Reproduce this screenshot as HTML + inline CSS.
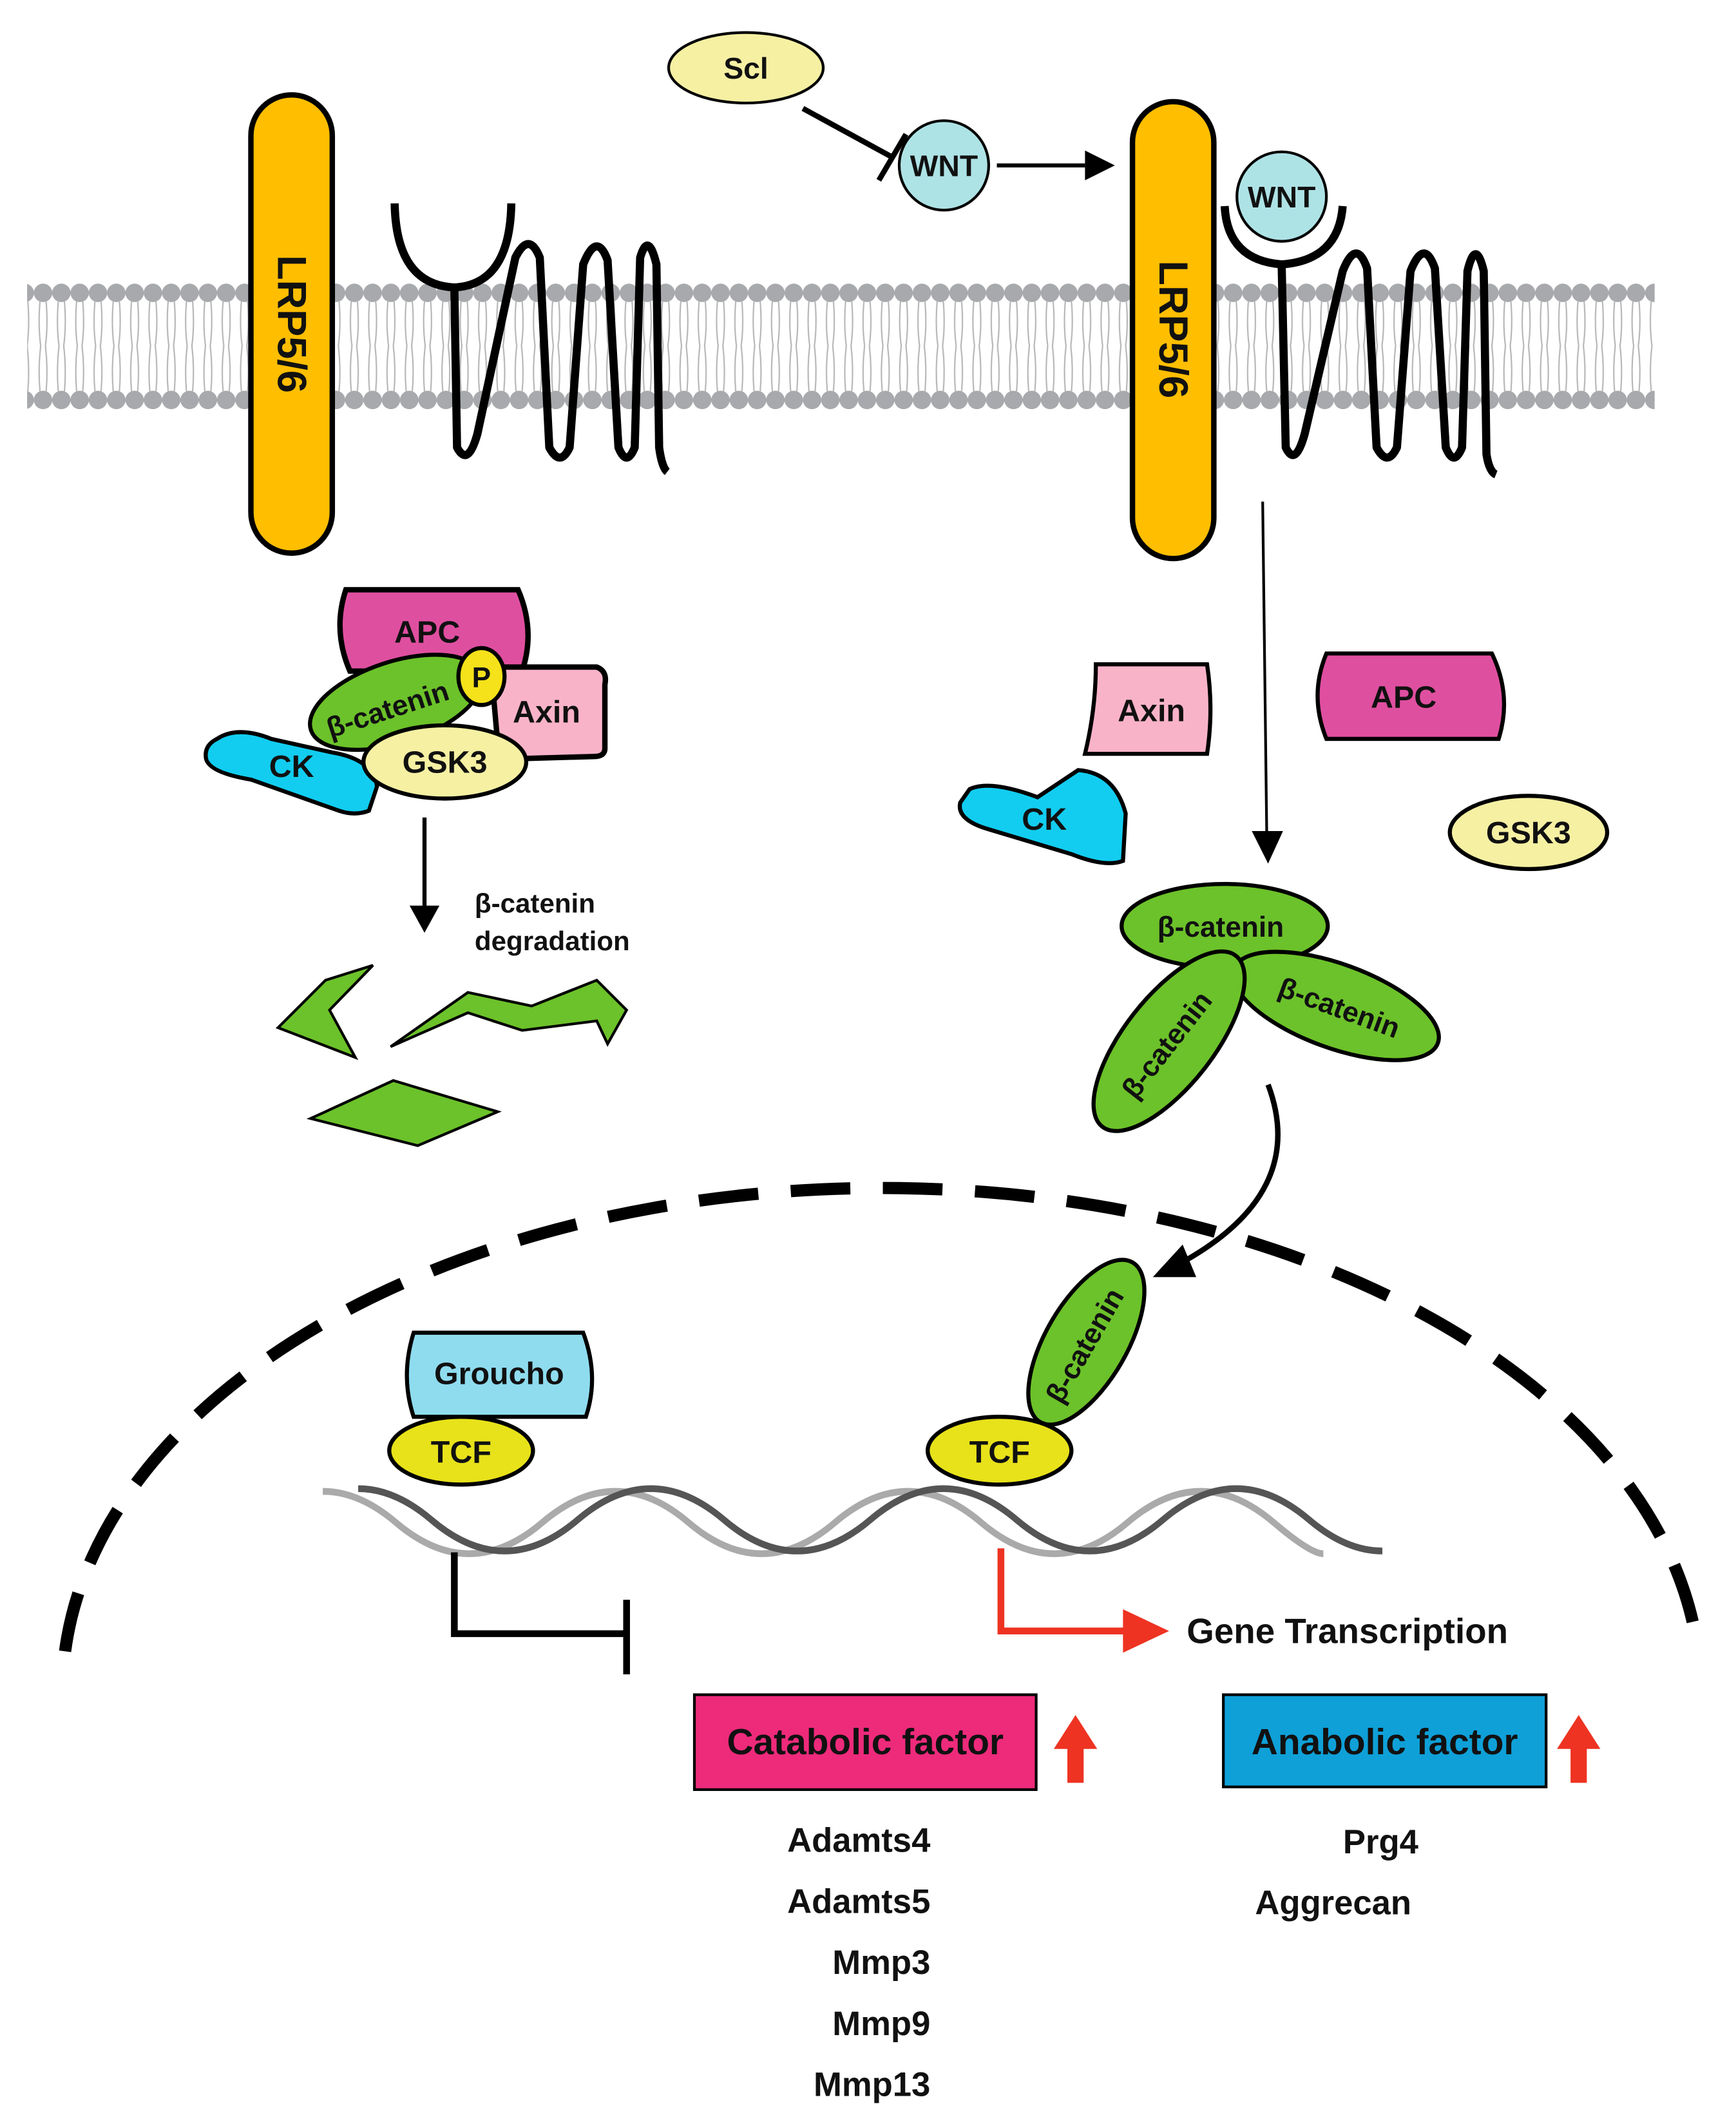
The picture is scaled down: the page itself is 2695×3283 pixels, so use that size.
<!DOCTYPE html>
<html><head><meta charset="utf-8"><style>
html,body{margin:0;padding:0;background:#fff;}
svg{display:block;}
text{font-family:"Liberation Sans",Arial,sans-serif;font-weight:bold;fill:#111;}
</style></head><body>
<svg width="2695" height="3283" viewBox="0 0 1280 1560" preserveAspectRatio="none" xmlns="http://www.w3.org/2000/svg">
<defs>
<pattern id="lip" x="25" y="0" width="13.5" height="1560" patternUnits="userSpaceOnUse">
<circle cx="6.75" cy="216" r="6.8" fill="#a7a9ac"/>
<circle cx="6.75" cy="295" r="6.8" fill="#a7a9ac"/>
<path d="M4.5 222 Q3 240 5 255 Q3 272 4.5 289 M9 222 Q10.5 240 8.5 255 Q10.5 272 9 289" stroke="#b5b5b5" stroke-width="1" fill="none"/>
</pattern>
</defs>
<rect x="20" y="205" width="1200" height="100" fill="url(#lip)"/>

<ellipse cx="550" cy="50" rx="57" ry="26" fill="#f6f0a3" stroke="#000" stroke-width="2"/>
<text x="550" y="58" font-size="22" text-anchor="middle">Scl</text>
<line x1="592" y1="80" x2="658" y2="116" stroke="#000" stroke-width="4"/>
<line x1="648" y1="133" x2="668" y2="99" stroke="#000" stroke-width="4"/>
<circle cx="696" cy="122" r="33" fill="#aee3e6" stroke="#000" stroke-width="2"/>
<text x="696" y="130" font-size="22" text-anchor="middle">WNT</text>
<line x1="735" y1="122" x2="800" y2="122" stroke="#000" stroke-width="3"/>
<path d="M800 111 L822 122 L800 133z" fill="#000"/>

<rect x="185" y="70" width="60" height="338" rx="30" fill="#ffbe00" stroke="#000" stroke-width="4"/>
<text transform="translate(205,239) rotate(90)" font-size="30" text-anchor="middle">LRP5/6</text>
<path d="M291 150 Q292 210 335 212 Q376 210 377 150" stroke="#000" stroke-width="6" fill="none"/>
<path d="M335 212 L337 330 Q345 345 352 320 L380 190 Q390 170 398 190 L405 330 Q413 345 420 330 L430 195 Q440 170 448 192 L456 330 Q462 345 468 330 L472 190 Q478 170 484 195 L486 330 Q488 345 492 348" stroke="#000" stroke-width="6" fill="none" stroke-linejoin="round"/>

<rect x="835" y="75" width="60" height="337" rx="30" fill="#ffbe00" stroke="#000" stroke-width="4"/>
<text transform="translate(855,243) rotate(90)" font-size="30" text-anchor="middle">LRP5/6</text>
<circle cx="945" cy="145" r="33" fill="#aee3e6" stroke="#000" stroke-width="2"/>
<text x="945" y="153" font-size="22" text-anchor="middle">WNT</text>
<path d="M903 152 Q905 192 945 195 Q987 192 990 152" stroke="#000" stroke-width="6" fill="none"/>
<path d="M945 195 L948 330 Q955 345 962 320 L990 200 Q1000 175 1008 198 L1015 330 Q1023 345 1030 330 L1040 200 Q1050 175 1058 198 L1066 330 Q1072 345 1078 330 L1082 200 Q1088 175 1094 200 L1096 335 Q1098 348 1103 350" stroke="#000" stroke-width="6" fill="none" stroke-linejoin="round"/>

<path d="M255 435 L382 435 Q395 465 385 495 L258 495 Q245 465 255 435z" fill="#df4fa0" stroke="#000" stroke-width="4"/>
<text x="315" y="474" font-size="23" text-anchor="middle">APC</text>
<path d="M362 492 L440 492 Q448 495 446 505 L446 552 Q446 558 438 558 L368 560z" fill="#f9b3c9" stroke="#000" stroke-width="4"/>
<text x="403" y="533" font-size="23" text-anchor="middle">Axin</text>
<path d="M160 545 Q175 535 200 545 L245 555 Q275 560 278 580 L272 598 Q262 602 250 598 L185 575 Q155 570 152 560 Q150 550 160 545z" fill="#12cdf0" stroke="#000" stroke-width="3"/>
<text x="215" y="573" font-size="23" text-anchor="middle">CK</text>
<ellipse cx="292" cy="518" rx="66" ry="30" transform="rotate(-18 292 518)" fill="#6cc22a" stroke="#000" stroke-width="3"/>
<text transform="translate(288,530) rotate(-18)" font-size="21" text-anchor="middle" font-weight="normal">β-catenin</text>
<ellipse cx="355" cy="499" rx="17" ry="21" fill="#f5e21a" stroke="#000" stroke-width="3"/>
<text x="355" y="507" font-size="21" text-anchor="middle">P</text>
<ellipse cx="328" cy="562" rx="60" ry="27" fill="#f6f0a3" stroke="#000" stroke-width="3"/>
<text x="328" y="570" font-size="23" text-anchor="middle">GSK3</text>
<line x1="313" y1="603" x2="313" y2="670" stroke="#000" stroke-width="3"/>
<path d="M302 668 L313 688 L324 668z" fill="#000"/>
<text x="350" y="673" font-size="20">β-catenin</text>
<text x="350" y="701" font-size="20">degradation</text>
<path d="M205 758 L240 723 L275 712 L243 745 L262 780z" fill="#6cc22a" stroke="#000" stroke-width="2"/>
<path d="M288 772 L345 732 L392 742 L440 723 L462 745 L448 770 L440 753 L385 760 L345 747z" fill="#6cc22a" stroke="#000" stroke-width="2"/>
<path d="M229 825 L290 797 L367 820 L308 845z" fill="#6cc22a" stroke="#000" stroke-width="2"/>

<path d="M808 490 L890 490 Q895 523 890 556 L800 556 Q808 523 808 490z" fill="#f9b3c9" stroke="#000" stroke-width="3"/>
<text x="849" y="532" font-size="23" text-anchor="middle">Axin</text>
<path d="M978 482 L1100 482 Q1115 513 1105 545 L978 545 Q965 513 978 482z" fill="#df4fa0" stroke="#000" stroke-width="3"/>
<text x="1035" y="522" font-size="23" text-anchor="middle">APC</text>
<path d="M715 582 Q730 575 765 588 L795 568 Q822 570 830 600 L828 635 Q815 640 790 630 L730 612 Q705 605 708 592z" fill="#12cdf0" stroke="#000" stroke-width="3"/>
<text x="770" y="612" font-size="23" text-anchor="middle">CK</text>
<ellipse cx="1127" cy="614" rx="58" ry="27" fill="#f6f0a3" stroke="#000" stroke-width="3"/>
<text x="1127" y="622" font-size="23" text-anchor="middle">GSK3</text>
<line x1="931" y1="370" x2="934" y2="615" stroke="#000" stroke-width="2"/>
<path d="M923 613 L935 637 L946 613z" fill="#000"/>
<ellipse cx="903" cy="683" rx="76" ry="31" fill="#6cc22a" stroke="#000" stroke-width="3"/>
<text x="900" y="691" font-size="21" text-anchor="middle" font-weight="normal">β-catenin</text>
<ellipse cx="985" cy="742" rx="80" ry="31" transform="rotate(20 985 742)" fill="#6cc22a" stroke="#000" stroke-width="3"/>
<text transform="translate(985,750) rotate(20)" font-size="21" text-anchor="middle" font-weight="normal">β-catenin</text>
<ellipse cx="862" cy="768" rx="80" ry="33" transform="rotate(-52 862 768)" fill="#6cc22a" stroke="#000" stroke-width="3"/>
<text transform="translate(866,775) rotate(-52)" font-size="21" text-anchor="middle" font-weight="normal">β-catenin</text>
<path d="M935 800 Q965 880 870 932" stroke="#000" stroke-width="4" fill="none"/>
<path d="M872 918 L850 942 L882 942z" fill="#000"/>

<path d="M48 1218 A604 372 0 0 1 1252 1218" stroke="#000" stroke-width="9" fill="none" stroke-dasharray="44 24"/>

<g transform="translate(238,0) scale(0.87,1) translate(-238,0)">
<path d="M238 1100 q31 0 62 23 q31 23 62 23 q31 0 62 -23 q31 -23 62 -23 q31 0 62 23 q31 23 62 23 q31 0 62 -23 q31 -23 62 -23 q31 0 62 23 q31 23 62 23 q31 0 62 -23 q31 -23 62 -23 q31 0 62 23 q31 23 42 23" stroke="#aaa" stroke-width="5" fill="none"/>
<path d="M268 1098 q31 0 62 23 q31 23 62 23 q31 0 62 -23 q31 -23 62 -23 q31 0 62 23 q31 23 62 23 q31 0 62 -23 q31 -23 62 -23 q31 0 62 23 q31 23 62 23 q31 0 62 -23 q31 -23 62 -23 q31 0 62 23 q31 23 62 23" stroke="#555" stroke-width="5" fill="none"/>
</g>

<path d="M305 983 L430 983 Q442 1015 432 1045 L305 1045 Q295 1015 305 983z" fill="#8fdcef" stroke="#000" stroke-width="3"/>
<text x="368" y="1021" font-size="23" text-anchor="middle">Groucho</text>
<ellipse cx="340" cy="1070" rx="53" ry="25" fill="#e8e21a" stroke="#000" stroke-width="3"/>
<text x="340" y="1079" font-size="23" text-anchor="middle">TCF</text>
<ellipse cx="801" cy="990" rx="68" ry="30" transform="rotate(-60 801 990)" fill="#6cc22a" stroke="#000" stroke-width="3"/>
<text transform="translate(806,996) rotate(-60)" font-size="21" text-anchor="middle" font-weight="normal">β-catenin</text>
<ellipse cx="737" cy="1070" rx="53" ry="25" fill="#e8e21a" stroke="#000" stroke-width="3"/>
<text x="737" y="1079" font-size="23" text-anchor="middle">TCF</text>

<path d="M335 1145 L335 1205 L462 1205" stroke="#000" stroke-width="5" fill="none"/>
<line x1="462" y1="1180" x2="462" y2="1235" stroke="#000" stroke-width="5"/>
<path d="M738 1142 L738 1203 L830 1203" stroke="#ee3322" stroke-width="5" fill="none"/>
<path d="M828 1187 L862 1203 L828 1219z" fill="#ee3322"/>
<text x="875" y="1212" font-size="26">Gene Transcription</text>

<rect x="512" y="1250" width="252" height="70" fill="#ee2a7b" stroke="#000" stroke-width="2"/>
<text x="638" y="1294" font-size="27" text-anchor="middle">Catabolic factor</text>
<path d="M787 1315 L787 1290 L777 1290 L793 1265 L809 1290 L799 1290 L799 1315z" fill="#ee3322"/>
<rect x="902" y="1250" width="238" height="68" fill="#0fa0d8" stroke="#000" stroke-width="2"/>
<text x="1021" y="1294" font-size="27" text-anchor="middle">Anabolic factor</text>
<path d="M1158 1315 L1158 1290 L1148 1290 L1164 1265 L1180 1290 L1170 1290 L1170 1315z" fill="#ee3322"/>

<g font-size="25" text-anchor="end">
<text x="686" y="1366">Adamts4</text>
<text x="686" y="1411">Adamts5</text>
<text x="686" y="1456">Mmp3</text>
<text x="686" y="1501">Mmp9</text>
<text x="686" y="1546">Mmp13</text>
</g>
<text x="1018" y="1367" font-size="25" text-anchor="middle">Prg4</text>
<text x="983" y="1412" font-size="25" text-anchor="middle">Aggrecan</text>
</svg>
</body></html>
